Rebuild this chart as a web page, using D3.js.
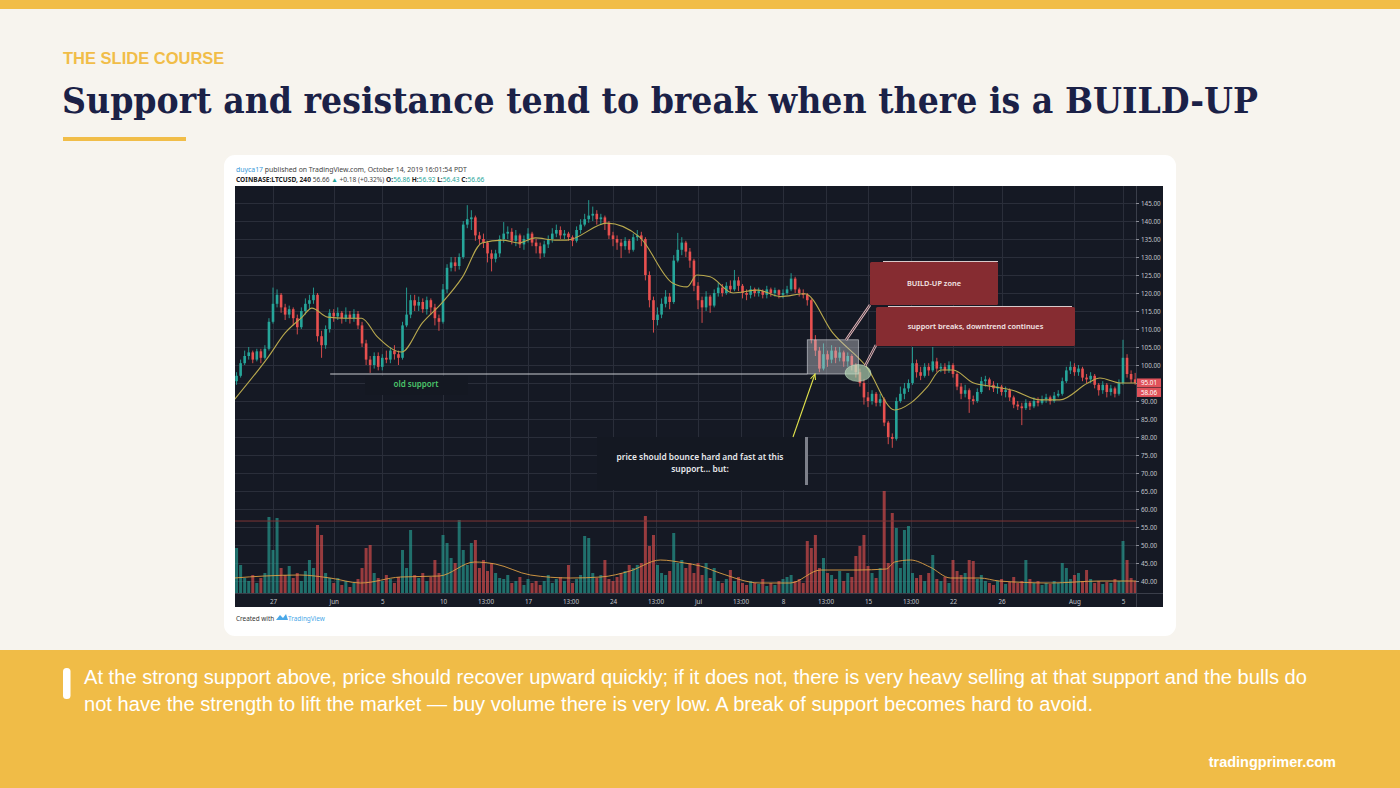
<!DOCTYPE html>
<html><head><meta charset="utf-8">
<script src="https://cdn.jsdelivr.net/npm/d3@7/dist/d3.min.js"></script>
<style>
html,body{margin:0;padding:0;background:#f7f4ee;}
svg{display:block;}
</style></head>
<body>
<svg id="slide" width="1400" height="788"></svg>
<script>
// ---------------- DATA (8-hour candles, LTCUSD, May 24 – Aug 6 2019) ----------------
const candleStart = "2019-05-24T00:00";
const firstOpen = 95.5;
const closes = [
97,100.5,102.5, 103.5,101.5,103.8, 102,104.5,112, 117,119.5,116, 114,115.5,113,
110.5,115,117, 118,119.5,108, 105.5,110,114.5, 113.5,114.5,113, 114,113,114.2,
111,106,101.5, 100,102.5,99.5, 102,101.5,104, 103,102,111, 114,118,116.5,
117.5,115.5,118, 116,113,112, 121,127,128.5, 127.5,130,139, 140.5,141,136,
135,134,131, 129.5,131,135, 136.5,137,134.5, 136,133.5,135, 136.5,134,133,
131,133.5,135, 136.5,137.5,136, 136.5,135.5,134.5, 137.5,139,140.5, 141.5,142,140.5,
141,139.5,136, 135,134,133, 134.5,132,135.5, 136,135,125, 118,112.5,114,
117,119,117.5, 129,132,134, 131.5,129,122, 118,116,119, 116.5,120,121.5,
120,122,121, 123.5,122,120, 119.5,121,120, 120.5,119.5,121, 120,120.8,119.5,
120,121,124, 121,120,119.5, 118,107,104, 99,103,101.5, 104,102,103.5,
101,102.5,100, 98,95,91, 90,92,89.5, 90.5,84,80, 79.5,90,92,
93.5,95,100.5, 98,97,99.5, 98.5,101,99, 99.5,98.5,100, 97.5,94,92,
93,90.5,90, 92.5,95.5,96, 94.5,93.5,94, 92.5,93,91, 89,88.5,88,
89.5,88.5,90, 89.5,90.5,91, 90,91.5,92, 95.5,98.5,99.5, 98,99,96.5,
96,97,94.5, 93,94.5,92.5, 93.5,92,95, 102,97.5,96, 95.01
];
const highs = [
98,101.5,104, 105,104,104.5, 104.5,105.5,113, 121.5,121,120, 117,116.5,116,
114,116,118.5, 119.5,121.5,120, 109.5,111,115.5, 115.5,116,115, 116,115,115.5,
115,112,107, 102.5,103.5,103.5, 103,104,105, 105.5,104,112, 121.5,119.5,119.5,
119,118.5,119, 118.5,117,114, 122.5,128,130, 130,131,140, 144.4,143,141.5,
137,136.5,134.5, 132,132,136, 139.7,138.5,138, 137.5,136.5,136, 138,137,135,
134,134.5,136, 138,139,138.5, 137.5,137,136, 138.5,140.5,142, 145.8,144,143,
142,141.5,140, 137,136,135, 135.5,135,136.5, 137.5,137,135.5, 126,119,116,
118.5,120.8,120, 130.5,136.7,135.5, 134.5,132.5,129.5, 123,119,120.5, 119.5,121,123,
122.5,123,123.5, 126.4,124.5,122.5, 121,122,121.5, 121.5,121,122, 121.5,121.5,121,
121,122,125.5, 124.5,121.5,121, 120,118.5,108.3, 105,106,104, 105.5,105,105,
104,103.5,103, 100.5,99,96, 92.5,93,92.5, 92,91,84.5, 81,91,94,
95,96,105, 101.5,99.5,100.5, 100.5,105,102, 100.5,100.5,101, 100.5,98,95,
94.5,93.5,91.5, 93.5,96.7,97, 96.5,95.5,95, 94.5,94,93.5, 91.5,90,89.5,
90.5,90,91, 91,91.5,92, 91.5,92.5,93, 96.5,99.5,101, 100.5,100,99.5,
97.5,98,97.5, 95,95.5,95, 94.5,94,96, 107,103,98.5, 97.8
];
const lows = [
94.5,96.5,100, 101.5,100.5,101, 100.5,101.5,104, 111.5,116,114.5, 112.5,113,111,
108.5,110,114, 115.5,117,106.5, 102,104.5,109, 112,112.5,111.5, 112,111.5,112,
110,105,100, 97.8,99,98.5, 98.5,100.5,100.5, 101.5,100,101.5, 110.5,113,115,
115,114.5,114, 114,111,109.5, 111.5,120,126, 126,126.5,129.5, 138,137.5,134.5,
133.5,132.5,128.5, 126,128.5,130, 134,135,133.5, 133,132.5,132, 134,133,131,
129.5,130,132.5, 134,135.5,135, 135,134.5,133, 134,136.5,138.5, 139.5,140,139,
139,137.5,135, 133,132,129.7, 132,131,131.5, 134.5,133,123.5, 116,109,111,
113,116,115.5, 117,128.5,130.5, 130,127,120.5, 115.5,111.7,115, 114.5,116,119,
119,119.5,120, 120.5,120.5,118.5, 118,118.5,119, 119,118.5,118.5, 119,119,118.5,
118.5,119.5,120.5, 120,119,118.5, 116.5,106,102.5, 98,98.5,99.5, 100.5,100.5,101,
99.5,99.5,98.5, 96.5,94,89, 88.3,89,88.5, 88.5,83,78, 77,79,89.5,
90.5,92.5,94.5, 96.5,95.8,96.5, 97,98,98, 98,97.5,97.8, 96.5,93,90.5,
91,86.7,89, 89.5,92,94, 93,92.5,92, 91.5,91,90, 88,87.5,83.3,
87.5,87.5,88, 88.5,89,89.5, 89,89.5,91, 91.5,95,97.5, 97,97,95.5,
95,95,93.5, 91.5,92,91, 91.5,91,91.5, 94.5,96.5,95, 94.5
];
const volumes = [
45,28,15, 12,18,10, 15,20,76, 43,75,25, 18,27,15,
20,12,22, 33,25,68, 58,20,15, 10,15,8, 12,6,10,
14,25,45, 48,20,15, 12,18,14, 10,16,43, 25,63,18,
15,20,12, 16,33,20, 58,50,35, 30,73,43, 28,50,53,
25,33,22, 30,20,15, 14,18,10, 12,16,8, 14,10,12,
8,12,18, 10,14,16, 12,28,10, 14,18,57, 55,20,15,
18,33,14, 12,16,20, 22,28,25, 28,30,77, 47,58,28,
20,18,22, 60,30,33, 25,30,20, 30,18,30, 15,25,12,
10,14,23, 12,16,10, 8,12,10, 9,14,7, 10,8,12,
14,16,18, 12,14,10, 52,45,58, 25,35,20, 18,14,22,
12,20,16, 37,47,58, 27,20,15, 25,102,30, 80,65,25,
63,67,20, 15,18,12, 20,38,14, 12,16,10, 33,22,18,
20,33,32, 14,18,12, 10,8,12, 14,9,11, 16,10,12,
33,14,10, 12,8,10, 9,12,10, 30,25,14, 18,20,12,
23,14,10, 12,9,11, 10,14,12, 52,33,15, 12
];
// moving average of price (days since May 24)
const maDays   = [-0.2,2.6,4.0,5.4,6.2,7.5,8.9,10.3,11.6,13.6,15.3,16.9,18.6,20.2,21.9,23.2,24.6,26.2,27.2,30.5,33.2,35.9,37.1,37.9,39.0,40.9,42.9,44.8,46.8,49.1,51.9,54.2,55.5,56.9,58.0,59.0,60.7,62.3,63.9,66.2,67.8,70.1,71.1,72.8,74.2];
const maValues = [90.3,102.2,108.9,113.3,115.8,113.3,113,113,107.8,103.6,111.7,117.2,124.4,133.9,134.7,133.9,135.3,134.7,134.7,139.4,135.5,122.8,121.7,125,124.5,120,120.8,119,119.8,108.9,99.4,87.5,89.4,94,98.6,98.6,95,94,93,90.3,90.3,95,96.4,95,95];
// moving average of volume
const volMaDays   = [-0.2,2.3,5.2,7.7,10.2,13.5,16.7,19.6,21.3,24.2,27.5,30,32.4,34.9,36.9,38.2,39.8,43.1,45.6,48.1,51.1,53.5,54.2,55.5,57.1,58.8,61.2,62.8,67,71.1,74.2];
const volMaValues = [15,17,18,15,10,16,17,31,29,18,15,16,22,33,30,27,20,10,10,23,23,24,31,33,26,15,15,12,10,12,12];

const priceTicks = [145,140,135,130,125,120,115,110,105,100,95,90,85,80,75,70,65,60,55,50,45,40];
const timeTickDates  = ["2019-05-27T00:00","2019-06-01T00:00","2019-06-05T00:00","2019-06-10T00:00","2019-06-13T12:00","2019-06-17T00:00","2019-06-20T12:00","2019-06-24T00:00","2019-06-27T12:00","2019-07-01T00:00","2019-07-04T12:00","2019-07-08T00:00","2019-07-11T12:00","2019-07-15T00:00","2019-07-18T12:00","2019-07-22T00:00","2019-07-26T00:00","2019-08-01T00:00","2019-08-05T00:00"];
const timeTickLabels = ["27","Jun","5","10","13:00","17","13:00","24","13:00","Jul","13:00","8","13:00","15","13:00","22","26","Aug","5"];
const lastPrice = 95.01, lastPriceLabel = "95.01", secondLabel = "58.06";
const currentPrice = 56.66;
const supportPrice = 97.5;
const buildUpBox = {from:"2019-07-10T00:00", to:"2019-07-14T05:00", low:97.5, high:107};

// ---------------- DRAWING ----------------
const svg = d3.select('#slide');
const parse = s => new Date(s);
const HOUR = 3600e3;

svg.append('rect').attr('width',1400).attr('height',788).attr('fill','#f7f4ee');
svg.append('rect').attr('width',1400).attr('height',9).attr('fill','#f1bd48');
svg.append('text').attr('x',63).attr('y',64).text('THE SLIDE COURSE')
  .attr('font-family','Liberation Sans, Arial, sans-serif').attr('font-weight','bold')
  .attr('font-size',16.5).attr('fill','#f1bd48');
svg.append('text').attr('x',62).attr('y',113).text('Support and resistance tend to break when there is a BUILD-UP')
  .attr('font-family','DejaVu Serif, serif').attr('font-weight','bold').attr('font-size',35)
  .attr('fill','#1b2147').attr('textLength',1196).attr('lengthAdjust','spacingAndGlyphs');
svg.append('rect').attr('x',63).attr('y',137).attr('width',123).attr('height',4).attr('fill','#f1bd48');

// card
svg.append('rect').attr('x',224).attr('y',155).attr('width',952).attr('height',481).attr('rx',11).attr('fill','#ffffff');

// header
const hdrFont = 'Noto Sans, Open Sans, sans-serif';
const h1 = svg.append('text').attr('x',236).attr('y',172).attr('font-family',hdrFont).attr('font-size',6.9).attr('fill','#444');
h1.append('tspan').attr('fill','#3a9ad9').text('duyca17');
h1.append('tspan').text(' published on TradingView.com, October 14, 2019 16:01:54 PDT');
const h2 = svg.append('text').attr('x',236).attr('y',181.5).attr('font-family',hdrFont).attr('font-size',6.6).attr('fill','#222');
h2.append('tspan').attr('font-weight','bold').text('COINBASE:LTCUSD, 240 ');
h2.append('tspan').attr('fill','#444').text('56.66 ');
h2.append('tspan').attr('fill','#26a69a').text('▲');
h2.append('tspan').attr('fill','#444').text(' +0.18 (+0.32%) ');
[['O:','56.86'],['H:','56.92'],['L:','56.43'],['C:','56.66']].forEach(([k,v])=>{
  h2.append('tspan').attr('font-weight','bold').text(k);
  h2.append('tspan').attr('fill','#26a69a').text(v+' ');
});

// chart
const CX = 235, CY = 186, CW = 928, CH = 421, PW = 901, PH = 407;
const g = svg.append('g').attr('transform',`translate(${CX},${CY})`);
g.append('rect').attr('width',CW).attr('height',CH).attr('fill','#151924');

const x = d3.scaleTime().domain([parse("2019-05-27T00:00"), parse("2019-08-05T00:00")]).range([38, 888]);
const y = d3.scaleLinear().domain([40,145]).range([395,17]);
const yv = d3.scaleLinear().domain([0,100]).range([PH, PH-100]);

g.append('clipPath').attr('id','plotclip').append('rect').attr('width',PW).attr('height',PH);
const plot = g.append('g').attr('clip-path','url(#plotclip)');

// grid
plot.selectAll('.hg').data(priceTicks).join('line')
  .attr('x1',0).attr('x2',PW).attr('y1',d=>Math.round(y(d))+0.5).attr('y2',d=>Math.round(y(d))+0.5)
  .attr('stroke','#2a2e3a').attr('stroke-width',1);
plot.selectAll('.vg').data(timeTickDates).join('line')
  .attr('x1',d=>Math.round(x(parse(d)))+0.5).attr('x2',d=>Math.round(x(parse(d)))+0.5).attr('y1',0).attr('y2',PH)
  .attr('stroke','#2a2e3a').attr('stroke-width',1);

// candles data
const t0 = parse(candleStart).getTime();
const n = Math.min(closes.length, highs.length, lows.length, volumes.length);
const candles = d3.range(n).map(i => {
  const o = i === 0 ? firstOpen : closes[i-1];
  const c = closes[i];
  return {t:new Date(t0 + i*8*HOUR), o, c, h:Math.max(highs[i],o,c), l:Math.min(lows[i],o,c), v:volumes[i], up:c>=o};
});
const UP = '#26a69a', DN = '#e8504f';

// volume
plot.selectAll('.vol').data(candles).join('rect')
  .attr('x',d=>x(d.t)-1.5).attr('width',3)
  .attr('y',d=>yv(d.v)).attr('height',d=>PH-yv(d.v))
  .attr('fill',d=>d.up?UP:DN).attr('opacity',0.62);

// volume MA
const dayToDate = d => new Date(t0 + d*24*HOUR);
plot.append('path').datum(volMaDays.map((d,i)=>[d,volMaValues[i]]))
  .attr('d',d3.line().x(d=>x(dayToDate(d[0]))).y(d=>yv(d[1])).curve(d3.curveMonotoneX))
  .attr('fill','none').attr('stroke','#e0a045').attr('stroke-width',0.9);

// current price line
plot.append('line').attr('x1',0).attr('x2',PW).attr('y1',y(currentPrice)).attr('y2',y(currentPrice))
  .attr('stroke','#7e3434').attr('stroke-width',1);

// wicks + bodies
plot.selectAll('.wick').data(candles).join('line')
  .attr('x1',d=>x(d.t)).attr('x2',d=>x(d.t)).attr('y1',d=>y(d.h)).attr('y2',d=>y(d.l))
  .attr('stroke',d=>d.up?UP:DN).attr('stroke-width',0.9);
plot.selectAll('.body').data(candles).join('rect')
  .attr('x',d=>x(d.t)-1.3).attr('width',2.6)
  .attr('y',d=>y(Math.max(d.o,d.c))).attr('height',d=>Math.max(1,Math.abs(y(d.o)-y(d.c))))
  .attr('fill',d=>d.up?UP:DN);

// price MA
plot.append('path').datum(maDays.map((d,i)=>[d,maValues[i]]))
  .attr('d',d3.line().x(d=>x(dayToDate(d[0]))).y(d=>y(d[1])).curve(d3.curveMonotoneX))
  .attr('fill','none').attr('stroke','#b9a94e').attr('stroke-width',1.1);

// ----- annotations -----
const noteFont = 'Noto Sans, Open Sans, sans-serif';
const supY = y(supportPrice);
const boxX0 = x(parse(buildUpBox.from)), boxX1 = x(parse(buildUpBox.to));
plot.append('line').attr('x1',x(parse("2019-05-31T17:00"))).attr('x2',boxX0).attr('y1',supY).attr('y2',supY)
  .attr('stroke','#c9cbd0').attr('stroke-width',1.2);
plot.append('rect').attr('x',130).attr('y',190).attr('width',103).attr('height',19).attr('fill','#141822');
plot.append('text').attr('x',181).attr('y',200.5).attr('text-anchor','middle').text('old support')
  .attr('font-family',noteFont).attr('font-weight','600').attr('font-size',8).attr('fill','#4cc46a');

// gray build-up box
plot.append('rect').attr('x',boxX0).attr('y',y(buildUpBox.high)).attr('width',boxX1-boxX0).attr('height',y(buildUpBox.low)-y(buildUpBox.high))
  .attr('fill','rgba(200,203,210,0.42)').attr('stroke','rgba(220,222,228,0.7)').attr('stroke-width',0.8);
// green ellipse
plot.append('ellipse').attr('cx',623).attr('cy',187).attr('rx',13).attr('ry',8.5)
  .attr('fill','rgba(190,228,190,0.62)').attr('stroke','rgba(210,240,210,0.7)').attr('stroke-width',0.6);

// text box "price should bounce"
plot.append('rect').attr('x',362).attr('y',251).attr('width',209).attr('height',53).attr('fill','#141822');
plot.append('rect').attr('x',570).attr('y',251).attr('width',3).attr('height',48).attr('fill','#7d808a');
const tb = plot.append('text').attr('text-anchor','middle').attr('font-family',noteFont).attr('font-weight','600').attr('font-size',8.4).attr('fill','#e8e9ec');
tb.append('tspan').attr('x',465).attr('y',274).text('price should bounce hard and fast at this');
tb.append('tspan').attr('x',465).attr('y',285.5).text('support... but:');

// yellow arrow
const defs = svg.append('defs');
defs.append('marker').attr('id','arrowY').attr('viewBox','0 0 10 10').attr('refX',9).attr('refY',5)
  .attr('markerWidth',6).attr('markerHeight',6).attr('orient','auto')
  .append('path').attr('d','M0,1 L9,5 L0,9').attr('fill','none').attr('stroke','#e2e34c').attr('stroke-width',1.6);
plot.append('line').attr('x1',558).attr('y1',251).attr('x2',580).attr('y2',188)
  .attr('stroke','#e2e34c').attr('stroke-width',1.1).attr('marker-end','url(#arrowY)');

// callout pointers
[[635,119,611,154],[641,159,630,180]].forEach(([a,b,c,d])=>{
  plot.append('line').attr('x1',a).attr('y1',b).attr('x2',c).attr('y2',d).attr('stroke','#e8b9bc').attr('stroke-width',2.6);
  plot.append('line').attr('x1',a).attr('y1',b).attr('x2',c).attr('y2',d).attr('stroke','#151924').attr('stroke-width',0.8);
});
// callouts
const callouts = [
  {x:635,y:76,w:128,h:43,label:'BUILD-UP zone',lx0:648,lx1:763},
  {x:641,y:121,w:199,h:39,label:'support breaks, downtrend continues',lx0:653,lx1:837}
];
callouts.forEach(c=>{
  plot.append('line').attr('x1',c.lx0).attr('x2',c.lx1).attr('y1',c.y-0.5).attr('y2',c.y-0.5).attr('stroke','#d9c9ca').attr('stroke-width',1.2);
  plot.append('rect').attr('x',c.x).attr('y',c.y).attr('width',c.w).attr('height',c.h).attr('rx',1.5).attr('fill','#862c31');
  plot.append('text').attr('x',c.x+c.w/2).attr('y',c.y+c.h/2+2.5).attr('text-anchor','middle').text(c.label)
    .attr('font-family',noteFont).attr('font-weight','600').attr('font-size',7.4).attr('fill','#f3e6e6');
});

// axes separators
g.append('line').attr('x1',PW+0.5).attr('x2',PW+0.5).attr('y1',0).attr('y2',CH).attr('stroke','#3a3e4a');
g.append('line').attr('x1',0).attr('x2',CW).attr('y1',PH+0.5).attr('y2',PH+0.5).attr('stroke','#3a3e4a');

// price axis
const axisFont = 'Noto Sans, Open Sans, sans-serif';
const ya = g.append('g').attr('transform',`translate(${PW},0)`)
  .call(d3.axisRight(y).tickValues(priceTicks).tickFormat(d3.format('.2f')).tickSize(3).tickPadding(2));
ya.select('.domain').remove();
ya.selectAll('line').attr('stroke','#8a8d96');
ya.selectAll('text').attr('fill','#c2c5cc').attr('font-family',axisFont).attr('font-size',6.3);

// last price labels
[[lastPrice,lastPriceLabel,0],[lastPrice,secondLabel,9.5]].forEach(([p,lab,dy])=>{
  const yy = y(p)+dy;
  g.append('rect').attr('x',PW+1).attr('y',yy-4.5).attr('width',24).attr('height',9).attr('fill','#e0525a');
  g.append('text').attr('x',PW+13).attr('y',yy+2.3).attr('text-anchor','middle').text(lab)
    .attr('font-family',axisFont).attr('font-size',6.3).attr('fill','#fff');
});

// time axis
const xa = g.append('g').attr('transform',`translate(0,${PH})`)
  .call(d3.axisBottom(x).tickValues(timeTickDates.map(parse)).tickFormat((d,i)=>timeTickLabels[i]).tickSize(0).tickPadding(7));
xa.select('.domain').remove();
xa.selectAll('text').attr('fill','#c2c5cc').attr('font-family',axisFont).attr('font-size',6.3);

// created with
const cw = svg.append('text').attr('x',236).attr('y',620.5).attr('font-family',hdrFont).attr('font-size',6.4).attr('fill','#333');
cw.append('tspan').text('Created with ');
svg.append('path').attr('d','M276,620 l4,-5 l3,3 l3,-4 l2,6 z').attr('fill','#4aa8e8');
svg.append('text').attr('x',288).attr('y',620.5).attr('font-family',hdrFont).attr('font-size',6.4).attr('fill','#4aa8e8').text('TradingView');

// footer band
svg.append('rect').attr('x',0).attr('y',650).attr('width',1400).attr('height',138).attr('fill','#f0bc47');
svg.append('rect').attr('x',63).attr('y',668).attr('width',7.5).attr('height',31).attr('rx',3.5).attr('fill','#ffffff');
const para = svg.append('text').attr('font-family','Liberation Sans, Arial, sans-serif').attr('font-size',19.5).attr('fill','#ffffff');
para.append('tspan').attr('x',84).attr('y',684).attr('textLength',1223).attr('lengthAdjust','spacingAndGlyphs')
  .text('At the strong support above, price should recover upward quickly; if it does not, there is very heavy selling at that support and the bulls do');
para.append('tspan').attr('x',84).attr('y',711).attr('textLength',1009).attr('lengthAdjust','spacingAndGlyphs')
  .text('not have the strength to lift the market — buy volume there is very low. A break of support becomes hard to avoid.');
svg.append('text').attr('x',1336).attr('y',767).attr('text-anchor','end').text('tradingprimer.com')
  .attr('font-family','Liberation Sans, Arial, sans-serif').attr('font-weight','bold').attr('font-size',14.5).attr('fill','#ffffff');
</script>
</body></html>
